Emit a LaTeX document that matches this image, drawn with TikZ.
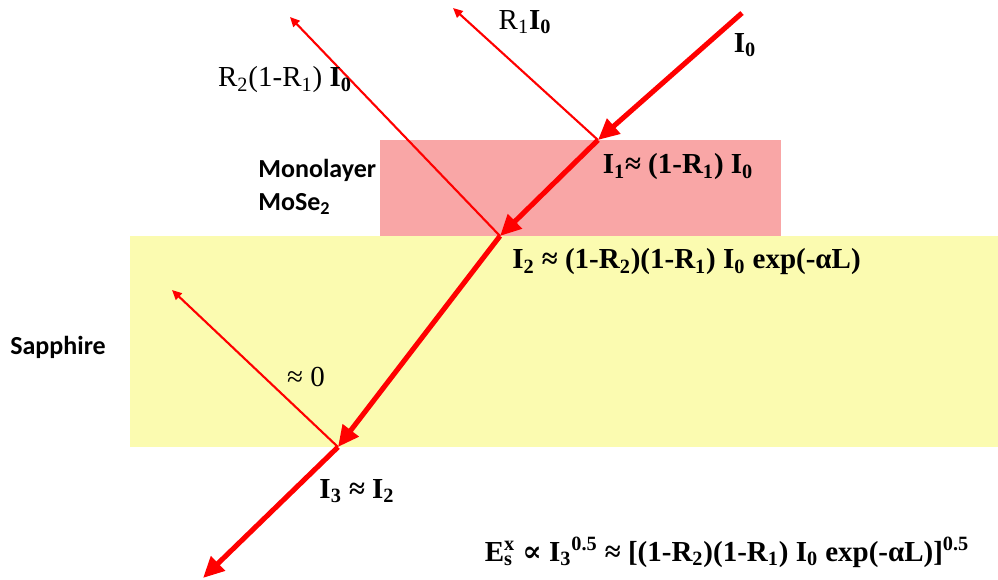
\documentclass[tikz,border=0pt]{standalone}
\usepackage{fontspec}
\setmainfont{Liberation Serif}
\newfontfamily\labelfont{Carlito}
\newfontfamily\symfont{DejaVu Serif}
\usetikzlibrary{arrows.meta}
\definecolor{layerpink}{HTML}{F9A6A6}
\definecolor{sapphireyellow}{HTML}{FBFBB0}
\definecolor{beamred}{HTML}{FF0000}
\newcommand{\lsub}[1]{\textsubscript{#1}}
\newcommand{\lsup}[1]{\textsuperscript{#1}}
\tikzset{
  beam/.style={beamred, line width=2.9pt, -{Triangle[length=12pt,width=11pt]}},
  refl/.style={beamred, line width=1.2pt, -{Triangle[length=5.5pt,width=5pt]}},
  eqlabel/.style={font=\fontsize{16.5}{19}\selectfont, inner sep=0pt},
  matlabel/.style={font=\labelfont\bfseries\fontsize{14.8}{19}\selectfont, inner sep=0pt, align=left}
}
\begin{document}
\begin{tikzpicture}[x=0.02cm, y=-0.02cm]
\useasboundingbox (0,0) rectangle (998,579);
% layers
\fill[sapphireyellow] (130,236) rectangle (998,447);
\fill[layerpink] (380,140) rectangle (781,236);
% beam points
\coordinate (src) at (742,13);
\coordinate (top) at (598,140);
\coordinate (mid) at (500,236);
\coordinate (bot) at (338,447);
\coordinate (out) at (203,578);
\coordinate (r1end) at (453,8);
\coordinate (r2end) at (290,17);
\coordinate (r3end) at (172,290);
% reflected beams
\draw[refl] (top) -- (r1end);
\draw[refl] (mid) -- (r2end);
\draw[refl] (bot) -- (r3end);
% transmitted beam
\draw[beam] (src) -- (top);
\draw[beam] (top) -- (mid);
\draw[beam] (mid) -- (bot);
\draw[beam] (bot) -- (out);
% labels
\node[matlabel, anchor=west] (mose) at (258,187) {Monolayer\\MoSe\lsub{2}};
\node[matlabel, anchor=west] (sapph) at (10,347) {Sapphire};
\node[eqlabel] (rone) at (525,22) {R\lsub{1}\textbf{I\lsub{0}}};
\node[eqlabel] (izero) at (745,45) {\textbf{I\lsub{0}}};
\node[eqlabel] (rtwo) at (285,80) {R\lsub{2}(1-R\lsub{1}) \textbf{I\lsub{0}}};
\node[eqlabel] (ione) at (678,167) {\textbf{I\lsub{1}≈ (1-R\lsub{1}) I\lsub{0}}};
\node[eqlabel, anchor=west] (itwo) at (512,262) {\textbf{I\lsub{2} ≈ (1-R\lsub{2})(1-R\lsub{1}) I\lsub{0} exp(-αL)}};
\node[eqlabel] (izer) at (306,377) {≈ 0};
\node[eqlabel] (ithree) at (357,491) {\textbf{I\lsub{3} ≈ I\lsub{2}}};
\node[eqlabel] (field) at (727,552) {\textbf{E\rlap{\lsub{s}}\lsup{x} {\symfont ∝} I\lsub{3}\lsup{0.5} ≈ [(1-R\lsub{2})(1-R\lsub{1}) I\lsub{0} exp(-αL)]\lsup{0.5}}};
\end{tikzpicture}
\end{document}
